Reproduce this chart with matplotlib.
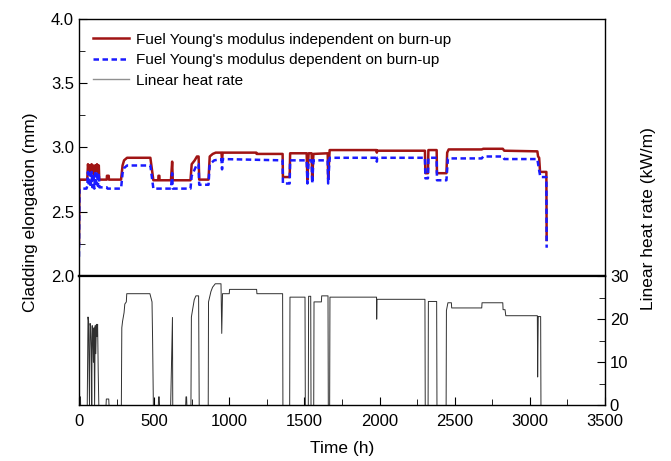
import matplotlib
matplotlib.use("Agg")
import matplotlib.pyplot as plt
from matplotlib.ticker import MultipleLocator

plt.rcParams['font.family'] = ['Liberation Sans', 'DejaVu Sans']

# cladding elongation, fuel Young's modulus independent on burn-up
t_ind = [0, 3, 55, 60, 66, 72, 78, 84, 90, 96, 102, 108, 114, 120, 126, 132, 135,
         185, 186, 198, 199, 280, 290, 300, 310, 320, 475, 495, 528, 529, 535, 536,
         612, 620, 624, 742, 750, 770, 785, 796, 800, 862, 870, 890, 910, 948, 952,
         956, 1180, 1182, 1355, 1357, 1402, 1405, 1515, 1520, 1528, 1548, 1552, 1560,
         1655, 1658, 1668, 1980, 1982, 1984, 2302, 2305, 2322, 2325, 2380, 2382, 2445,
         2450, 2460, 2680, 2690, 2820, 2830, 3050, 3055, 3062, 3068, 3110, 3112]
e_ind = [2.25, 2.75, 2.75, 2.87, 2.80, 2.86, 2.79, 2.87, 2.80, 2.86, 2.78, 2.86, 2.82,
         2.87, 2.80, 2.86, 2.75, 2.75, 2.78, 2.78, 2.75, 2.75, 2.86, 2.90, 2.91, 2.92,
         2.92, 2.745, 2.745, 2.78, 2.78, 2.745, 2.745, 2.89, 2.745, 2.745, 2.87, 2.90,
         2.93, 2.93, 2.75, 2.75, 2.93, 2.95, 2.96, 2.96, 2.90, 2.96, 2.96, 2.95, 2.95,
         2.77, 2.77, 2.955, 2.955, 2.75, 2.955, 2.955, 2.75, 2.95, 2.955, 2.76, 2.98,
         2.98, 2.96, 2.975, 2.975, 2.80, 2.80, 2.98, 2.98, 2.80, 2.80, 2.96, 2.985,
         2.985, 2.99, 2.99, 2.975, 2.97, 2.93, 2.92, 2.81, 2.81, 2.28]

# cladding elongation, fuel Young's modulus dependent on burn-up
t_dep = [0, 3, 50, 55, 60, 66, 72, 78, 84, 90, 96, 102, 108, 114, 120, 126, 132, 136,
         185, 190, 280, 290, 300, 320, 475, 495, 612, 620, 624, 742, 750, 770, 785,
         796, 800, 862, 870, 900, 948, 952, 956, 1355, 1357, 1402, 1405, 1515, 1520,
         1528, 1548, 1552, 1560, 1655, 1658, 1668, 1980, 1982, 1984, 2302, 2305, 2322,
         2325, 2380, 2382, 2445, 2455, 2680, 2690, 2820, 2830, 3050, 3058, 3070, 3110,
         3112]
e_dep = [2.15, 2.68, 2.68, 2.70, 2.81, 2.70, 2.80, 2.69, 2.81, 2.69, 2.80, 2.68, 2.80,
         2.72, 2.81, 2.70, 2.80, 2.69, 2.69, 2.68, 2.68, 2.80, 2.84, 2.86, 2.86, 2.68,
         2.68, 2.80, 2.68, 2.68, 2.78, 2.83, 2.87, 2.87, 2.71, 2.71, 2.87, 2.90, 2.91,
         2.83, 2.91, 2.90, 2.72, 2.72, 2.90, 2.90, 2.72, 2.90, 2.90, 2.72, 2.90, 2.90,
         2.72, 2.92, 2.92, 2.89, 2.92, 2.92, 2.76, 2.76, 2.92, 2.92, 2.745, 2.745,
         2.915, 2.915, 2.93, 2.93, 2.91, 2.91, 2.85, 2.77, 2.77, 2.22]

# linear heat rate (kW/m)
t_q = [0, 5, 6, 10, 11, 55, 60, 64, 67, 70, 74, 78, 82, 85, 88, 92, 96, 100, 104, 108,
       112, 116, 120, 124, 128, 132, 180, 182, 198, 200, 282, 285, 290, 300, 305, 315,
       318, 472, 486, 490, 495, 528, 530, 534, 536, 610, 622, 624, 710, 712, 716, 718,
       745, 748, 756, 767, 778, 796, 800, 860, 862, 878, 889, 907, 945, 950, 955, 961,
       1000, 1002, 1182, 1184, 1355, 1357, 1402, 1404, 1504, 1506, 1526, 1528, 1542,
       1544, 1562, 1564, 1613, 1615, 1657, 1659, 1668, 1670, 1980, 1981, 1983, 2302,
       2304, 2323, 2325, 2380, 2382, 2443, 2445, 2455, 2478, 2480, 2680, 2682, 2820,
       2822, 2835, 2840, 3050, 3052, 3056, 3058, 3072, 3074, 3500]
q = [0, 0, 2, 2, 0, 0, 20.5, 19.5, 8, 0, 19, 18, 13, 0, 18.5, 17, 10, 18, 0, 18.5, 12,
     18.8, 16, 18.8, 8, 0, 0, 1.5, 1.5, 0, 0, 18, 19.5, 21.5, 23.5, 24, 25.9, 25.9, 24,
     15, 0, 0, 2, 2, 0, 0, 20.4, 0, 0, 2, 2, 0, 0, 20.5, 22.2, 24.5, 25.4, 25.4, 0, 0,
     24, 26.4, 27.4, 28.2, 28.2, 16.7, 25.9, 25.9, 25.9, 26.9, 26.9, 25.9, 25.9, 0, 0,
     25.1, 25.1, 0, 0, 25.3, 25.3, 0, 0, 24, 24, 25.4, 25.4, 0, 0, 25.1, 25.1, 20,
     24.6, 24.6, 0, 0, 24.1, 24.1, 0, 0, 22, 23.8, 23.8, 22.6, 22.6, 23.8, 23.8, 22.2,
     22.2, 20.8, 20.8, 6.6, 20.6, 20.6, 20.6, 0, 0]

fig = plt.figure(figsize=(6.71, 4.61), dpi=100)
ax1 = fig.add_axes([0.1177, 0.4013, 0.7839, 0.5575])
ax2 = fig.add_axes([0.1177, 0.1204, 0.7839, 0.2809])

l1, = ax1.plot(t_ind, e_ind, color='#a01414', lw=1.8,
               label="Fuel Young's modulus independent on burn-up")
l2, = ax1.plot(t_dep, e_dep, color='#1a1aff', lw=1.8, ls=(0, (2.2, 1.4)),
               label="Fuel Young's modulus dependent on burn-up")
l3, = ax2.plot(t_q, q, color='#303030', lw=0.7, label='Linear heat rate')

for ax in (ax1, ax2):
    ax.set_xlim(0, 3500)
    for s in ax.spines.values():
        s.set_linewidth(1.0)

ax1.set_ylim(2.0, 4.0)
ax1.yaxis.set_major_locator(MultipleLocator(0.5))
ax1.yaxis.set_minor_locator(MultipleLocator(0.25))
ax1.yaxis.set_major_formatter(plt.FormatStrFormatter('%.1f'))
ax1.tick_params(axis='y', which='both', direction='in', labelsize=12, length=4)
ax1.tick_params(axis='y', which='major', length=6)
ax1.tick_params(axis='x', which='both', bottom=False, labelbottom=False)
ax1.spines['bottom'].set_linewidth(1.6)

ax2.set_ylim(0, 30)
ax2.yaxis.tick_right()
ax2.yaxis.set_major_locator(MultipleLocator(10))
ax2.yaxis.set_minor_locator(MultipleLocator(5))
ax2.xaxis.set_major_locator(MultipleLocator(500))
ax2.xaxis.set_minor_locator(MultipleLocator(250))
ax2.tick_params(which='both', direction='in', labelsize=12, length=4)
ax2.tick_params(which='major', length=6)
ax2.tick_params(axis='x', pad=6)
ax2.spines['top'].set_linewidth(1.6)

ax2.set_xlabel('Time (h)', fontsize=12.5, labelpad=9)
fig.text(0.045, 0.54, 'Cladding elongation (mm)', rotation=90, fontsize=12.5,
         ha='center', va='center')
fig.text(0.966, 0.525, 'Linear heat rate (kW/m)', rotation=90, fontsize=12.5,
         ha='center', va='center')

leg = ax1.legend(handles=[l1, l2, l3], loc='upper left', frameon=False, fontsize=11,
                 handlelength=2.4, handletextpad=0.4, borderaxespad=0.5,
                 borderpad=0.4, labelspacing=0.42)
leg.legend_handles[2].set_color('#909090')
leg.legend_handles[2].set_linewidth(1.0)

fig.savefig('out.png', dpi=100)
